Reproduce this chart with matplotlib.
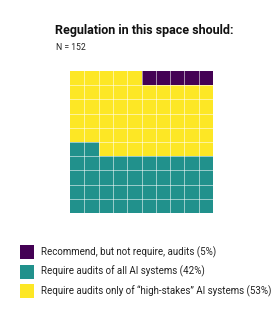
import numpy as np
import matplotlib
matplotlib.use("Agg")
import matplotlib.pyplot as plt
from matplotlib.colors import ListedColormap
from matplotlib.patches import Rectangle

title = "Regulation in this space should:"
subtitle = "N = 152"
categories = ["Recommend, but not require, audits (5%)",
              "Require audits of all AI systems (42%)",
              "Require audits only of \u201chigh-stakes\u201d AI systems (53%)"]
counts = [5, 42, 53]
colors = ["#440154", "#21918c", "#fde725"]
# fill order from bottom-left, row by row
fill_order = [1, 2, 0]

plt.rcParams['font.family'] = ['Roboto', 'DejaVu Sans']

W, H = 274, 329
fig = plt.figure(figsize=(W / 100, H / 100), dpi=100)

nrows, ncols = 10, 10
cells = []
for idx in fill_order:
    cells += [idx] * counts[idx]
grid = np.array(cells).reshape(nrows, ncols)

ax = fig.add_axes([70 / W, (H - 213) / H, 143 / W, 142 / H])
cmap = ListedColormap(colors)
ax.pcolormesh(np.arange(ncols + 1), np.arange(nrows + 1), grid, cmap=cmap,
              vmin=-0.5, vmax=len(colors) - 0.5, edgecolor='none', antialiased=False)
for k in range(1, ncols):
    ax.axvline(k, color='white', alpha=0.55, lw=0.7)
for k in range(1, nrows):
    ax.axhline(k, color='white', alpha=0.55, lw=0.7)
ax.set_xlim(0, ncols)
ax.set_ylim(0, nrows)
ax.set_axis_off()

fig.text(55 / W, 1 - 34 / H, title, fontsize=9.0, fontweight='bold', va='baseline', ha='left', color='#111111')
fig.text(55.5 / W, 1 - 50 / H, subtitle, fontsize=6.2, va='baseline', ha='left', color='#222222')

# legend drawn in figure pixel coordinates
row_top = [245, 264.7, 284.3]
sq = 14
for i, (lab, col) in enumerate(zip(categories, colors)):
    y0 = H - row_top[i] - sq
    fig.patches.append(Rectangle((20 / W, y0 / H), sq / W, sq / H, transform=fig.transFigure,
                                 facecolor=col, edgecolor='none'))
    fig.text(41 / W, (y0 + sq / 2) / H, lab, fontsize=7, va='center', ha='left', color='#222222')

fig.savefig("out.png", dpi=100)
